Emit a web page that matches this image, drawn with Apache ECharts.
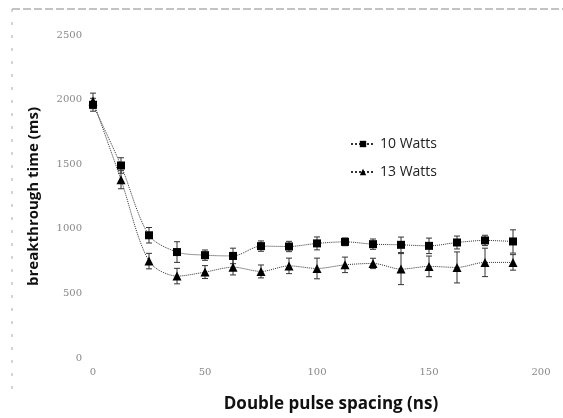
<!DOCTYPE html>
<html>
<head>
<meta charset="utf-8">
<script src="https://cdn.jsdelivr.net/npm/echarts@6/dist/echarts.min.js"></script>
<style>html,body{margin:0;padding:0;background:#fff;}#c{width:563px;height:418px;}</style>
</head>
<body>
<div id="c"></div>
<script>
const spacing = [0, 12.5, 25, 37.5, 50, 62.5, 75, 87.5, 100, 112.5, 125, 137.5, 150, 162.5, 175, 187.5];
const w10 = [1960, 1490, 950, 820, 796, 790, 866, 863, 887, 899, 881, 876, 868, 894, 910, 902];
const w10err = [50, 60, 60, 80, 40, 60, 40, 40, 50, 30, 40, 60, 60, 50, 40, 90];
const w13 = [1990, 1380, 750, 634, 665, 703, 670, 713, 693, 721, 732, 688, 709, 701, 740, 740];
const w13err = [60, 70, 60, 60, 50, 60, 50, 60, 80, 60, 40, 120, 80, 120, 110, 60];
const yTicks = [0, 500, 1000, 1500, 2000, 2500];
const xTicks = [0, 50, 100, 150, 200];

const chart = echarts.init(document.getElementById('c'));

function errData(vals, errs) {
  return spacing.map((x, i) => [x, vals[i] - errs[i], vals[i] + errs[i]]);
}
function errRender(params, api) {
  const x = api.value(0);
  const lo = api.coord([x, api.value(1)]);
  const hi = api.coord([x, api.value(2)]);
  const cap = 3;
  const st = { stroke: '#333', lineWidth: 1 };
  return {
    type: 'group',
    children: [
      { type: 'line', shape: { x1: lo[0], y1: lo[1], x2: hi[0], y2: hi[1] }, style: st },
      { type: 'line', shape: { x1: lo[0] - cap, y1: lo[1], x2: lo[0] + cap, y2: lo[1] }, style: st },
      { type: 'line', shape: { x1: hi[0] - cap, y1: hi[1], x2: hi[0] + cap, y2: hi[1] }, style: st }
    ]
  };
}

const axisLabelStyle = { color: '#888', fontFamily: 'DejaVu Serif', fontSize: 10 };

chart.setOption({
  animation: false,
  backgroundColor: '#fff',
  grid: { left: 93, right: 22, top: 35, bottom: 59 },
  xAxis: {
    type: 'value', min: 0, max: 200, interval: 50,
    axisLine: { show: false }, axisTick: { show: false }, splitLine: { show: false },
    axisLabel: Object.assign({ margin: 9, formatter: v => xTicks.includes(v) ? String(v) : '' }, axisLabelStyle),
    name: 'Double pulse spacing (ns)', nameLocation: 'middle', nameGap: 38,
    nameTextStyle: { fontFamily: 'Open Sans', fontWeight: 'bold', fontSize: 17, color: '#111', padding: [0, 0, 0, 28] }
  },
  yAxis: {
    type: 'value', min: 0, max: 2500, interval: 500,
    axisLine: { show: false }, axisTick: { show: false }, splitLine: { show: false },
    axisLabel: Object.assign({ margin: 11, formatter: v => yTicks.includes(v) ? String(v) : '' }, axisLabelStyle),
    name: 'breakthrough time (ms)', nameLocation: 'middle', nameGap: 52,
    nameTextStyle: { fontFamily: 'Open Sans', fontWeight: 'bold', fontSize: 15, color: '#111' }
  },
  legend: {
    orient: 'vertical', left: 345, top: 132, itemGap: 14, itemWidth: 24, itemHeight: 8,
    textStyle: { fontFamily: 'Open Sans', fontSize: 14, color: '#222' },
    data: ['10 Watts', '13 Watts']
  },
  graphic: [
    { type: 'line', shape: { x1: 12, y1: 9, x2: 563, y2: 9 }, style: { stroke: '#888', lineWidth: 1, lineDash: [8, 3] } },
    { type: 'line', shape: { x1: 12, y1: 9, x2: 12, y2: 390 }, style: { stroke: '#aaa', lineWidth: 1, lineDash: [3, 10] } }
  ],
  series: [
    {
      name: '10 Watts', type: 'line', smooth: 0.3,
      data: spacing.map((x, i) => [x, w10[i]]),
      symbol: 'rect', symbolSize: 8,
      itemStyle: { color: '#000' },
      lineStyle: { color: '#333', width: 1, type: 'dotted' }, z: 3
    },
    {
      name: '13 Watts', type: 'line', smooth: 0.3,
      data: spacing.map((x, i) => [x, w13[i]]),
      symbol: 'triangle', symbolSize: 9,
      itemStyle: { color: '#000' },
      lineStyle: { color: '#333', width: 1, type: 'dotted' }, z: 3
    },
    { type: 'custom', renderItem: errRender, data: errData(w10, w10err), z: 2, encode: { x: 0, y: [1, 2] } },
    { type: 'custom', renderItem: errRender, data: errData(w13, w13err), z: 2, encode: { x: 0, y: [1, 2] } }
  ]
});
</script>
</body>
</html>
